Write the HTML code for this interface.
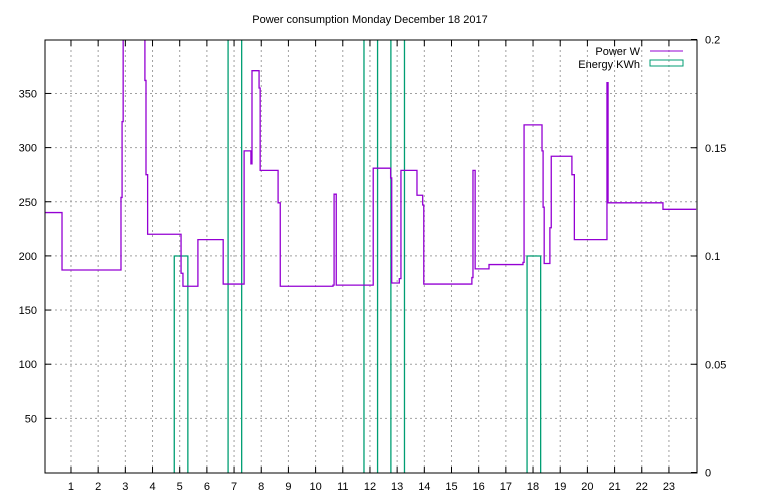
<!DOCTYPE html>
<html><head><meta charset="utf-8"><style>
body{margin:0;background:#fff;}
svg{display:block;font-family:"Liberation Sans","DejaVu Sans",sans-serif;font-size:11px;}
</style></head><body>
<svg id="chart" width="768" height="500">
<defs><clipPath id="clip"><rect x="45" y="40" width="652" height="433"/></clipPath></defs>
<text x="370" y="23" text-anchor="middle">Power consumption Monday December 18 2017</text>
<g id="grid"></g>
<g id="axes"></g>
<g id="series" clip-path="url(#clip)"></g>
<rect x="45" y="40" width="652" height="433" fill="none" stroke="#000" stroke-width="1"/>
<g>
<text x="640" y="55" text-anchor="end">Power W</text>
<line x1="650" y1="51" x2="683" y2="51" stroke="#9400d3" stroke-width="1"/>
<text x="640" y="68" text-anchor="end">Energy KWh</text>
<rect x="650" y="60" width="33" height="6" fill="none" stroke="#009e73" stroke-width="1"/>
</g>
</svg>
<script>
// Power steps: [hour, watts]
const powerHours = [0,0.67,2.84,2.88,2.92,3.72,3.76,3.82,5.05,5.12,5.67,6.6,7.37,7.62,7.66,7.92,7.96,8.62,8.7,10.64,10.68,10.76,12.12,12.76,12.8,13.08,13.14,13.73,13.94,13.98,15.75,15.79,15.87,16.38,17.63,17.67,18.33,18.37,18.41,18.62,18.67,19.43,19.52,20.72,20.76,22.78,24];
const powerWatts = [240,187,254,324,420,362,275,220,184,172,215,174,297,285,371,355,279,249,172,173,257,173,281,272,175,179,279,256,247,174,180,279,188,192,194,321,297,245,193,226,292,275,215,360,249,243,243];
// Energy half-hour bars: start hour, KWh (values above 0.2 are clipped)
const energyStart = [4.8,6.78,11.78,12.77,17.78];
const energyKWh = [0.1,0.3,0.3,0.3,0.1];
const xTicks = [1,2,3,4,5,6,7,8,9,10,11,12,13,14,15,16,17,18,19,20,21,22,23];
const yTicks = [50,100,150,200,250,300,350];
const y2Ticks = [0,0.05,0.1,0.15,0.2];
const y2Labels = ["0","0.05","0.1","0.15","0.2"];

const X0=43.8, XS=27.18, Y0=472.5, YS=1.083, Y2S=433/0.2;
const xs=h=>X0+h*XS, ys=w=>Y0-w*YS, y2s=v=>Y0-v*Y2S;
const NS="http://www.w3.org/2000/svg";
function mk(tag,attrs,parent){const e=document.createElementNS(NS,tag);for(const k in attrs)e.setAttribute(k,attrs[k]);parent.appendChild(e);return e;}
const grid=document.getElementById('grid'),axes=document.getElementById('axes'),series=document.getElementById('series');

xTicks.forEach(h=>{
  const x=xs(h);
  const g=mk('line',{x1:x,y1:40,x2:x,y2:473,stroke:'#a0a0a0','stroke-dasharray':'2,3'},grid);
  
  
  const t=mk('line',{x1:x,y1:473,x2:x,y2:467,stroke:'#000'},axes);
  
  
  const t2=mk('line',{x1:x,y1:40,x2:x,y2:46,stroke:'#000'},axes);
  
  
  const l=mk('text',{x:x,y:490,'text-anchor':'middle'},axes);l.textContent=h;
  
  
});
yTicks.forEach(v=>{
  const y=ys(v);
  const g=mk('line',{x1:45,y1:y,x2:697,y2:y,stroke:'#a0a0a0','stroke-dasharray':'2,3'},grid);
  
  
  const t=mk('line',{x1:45,y1:y,x2:51,y2:y,stroke:'#000'},axes);
  
  
  const l=mk('text',{x:37,y:y+4,'text-anchor':'end'},axes);l.textContent=v;
  
  
});
y2Ticks.forEach((v,i)=>{
  const y=y2s(v);
  const t=mk('line',{x1:691,y1:y,x2:697,y2:y,stroke:'#000'},axes);
  
  
  const l=mk('text',{x:705,y:y+4,'text-anchor':'start'},axes);l.textContent=y2Labels[i];
  
  
});

energyStart.forEach((h,i)=>{
  const x1=xs(h),x2=xs(h+0.5),y=y2s(energyKWh[i]);
  const p=mk('path',{d:`M${x1},${Y0+1}V${y}H${x2}V${Y0+1}`,fill:'none',stroke:'#009e73','stroke-width':1.3},series);
  
  
});

let d='';
for(let i=0;i<powerHours.length;i++){
  const x=xs(powerHours[i]),y=ys(powerWatts[i]);
  if(i===0)d+=`M${x},${y}`;else d+=`V${y}`;
  if(i<powerHours.length-1)d+=`H${xs(powerHours[i+1])}`;
}
const pl=mk('path',{d:d,fill:'none',stroke:'#9400d3','stroke-width':1.3},series);


</script>
</body></html>
